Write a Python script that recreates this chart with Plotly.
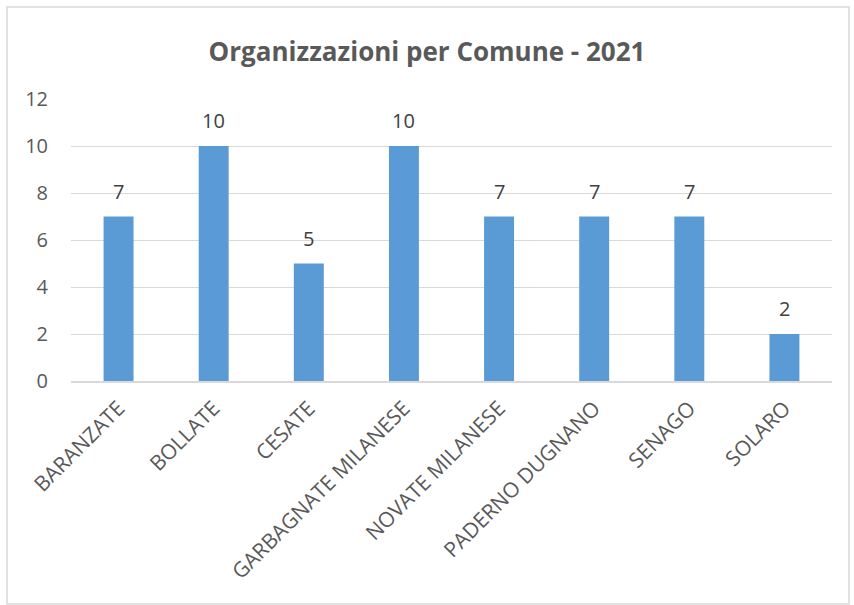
import plotly.graph_objects as go

# data
comuni = ['BARANZATE', 'BOLLATE', 'CESATE', 'GARBAGNATE MILANESE',
          'NOVATE MILANESE', 'PADERNO DUGNANO', 'SENAGO', 'SOLARO']
organizzazioni = [7, 10, 5, 10, 7, 7, 7, 2]
y_ticks = [0, 2, 4, 6, 8, 10, 12]

font_family = "Open Sans, Noto Sans, sans-serif"

fig = go.Figure()

fig.add_trace(go.Bar(
    x=comuni,
    y=organizzazioni,
    marker=dict(color='#5B9BD5', line=dict(width=0)),
))

# value labels above the bars
for c, v in zip(comuni, organizzazioni):
    fig.add_annotation(
        x=c, y=v, text=str(v), showarrow=False,
        yanchor='bottom', yshift=10,
        font=dict(size=20, color='#404040', family=font_family),
    )

L, R, T, B = 71, 22, 99, 224
W, H = 854, 605
pw, ph = W - L - R, H - T - B

fig.update_layout(
    width=W, height=H,
    margin=dict(l=L, r=R, t=T, b=B),
    paper_bgcolor='white',
    plot_bgcolor='white',
    bargap=0.685,
    showlegend=False,
    title=dict(
        text='<b>Organizzazioni per Comune - 2021</b>',
        x=0.5, xanchor='center',
        y=1 - 52 / H, yanchor='middle',
        font=dict(size=26, color='#595959', family=font_family),
    ),
    font=dict(family=font_family, color='#595959'),
)

fig.update_yaxes(
    range=[0, 12],
    tickvals=y_ticks,
    showgrid=True, gridcolor='#D9D9D9', gridwidth=1,
    zeroline=False,
    showline=False,
    tickfont=dict(size=20, color='#595959'),
    ticklabelstandoff=22,
)

fig.update_xaxes(
    tickangle=-45,
    showline=True, linecolor='#D9D9D9', linewidth=1.5,
    tickfont=dict(size=21, color='#595959'),
    ticklabelstandoff=5,
)

# chart border
fig.add_shape(
    type='rect', xref='paper', yref='paper',
    x0=(7 - L) / pw, x1=(849 - L) / pw,
    y0=-(604 - (T + ph)) / ph, y1=1 + (T - 7) / ph,
    line=dict(color='#D9D9D9', width=1.5),
    fillcolor='rgba(0,0,0,0)',
    layer='below',
)

fig.write_html("out.html",
               config={'displayModeBar': False},
               post_script="document.body.style.margin='0';document.body.style.overflow='hidden';")
